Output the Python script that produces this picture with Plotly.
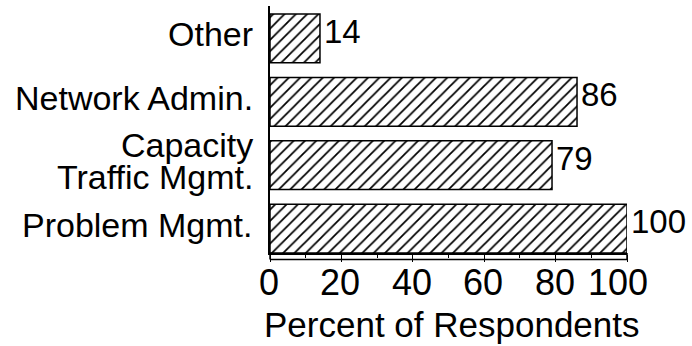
import plotly.graph_objects as go

# Survey results: share of respondents naming each management function
categories = ["Problem Mgmt.", "Capacity Traffic Mgmt.", "Network Admin.", "Other"]
category_lines = [["Problem Mgmt."], ["Capacity", "Traffic Mgmt."], ["Network Admin."], ["Other"]]
percent = [100, 79, 86, 14]
x_ticks = [0, 20, 40, 60, 80, 100]
x_title = "Percent of Respondents"

FONT = "Liberation Sans, Arial, Helvetica, sans-serif"

fig = go.Figure(
    go.Bar(
        x=percent,
        y=categories,
        orientation="h",
        marker=dict(
            color="white",
            line=dict(color="black", width=1.5),
            pattern=dict(shape="/", fgcolor="black", bgcolor="white",
                         fgopacity=1, size=8, solidity=0.22),
        ),
    )
)

fig.update_layout(
    width=692,
    height=346,
    margin=dict(l=270, r=65, t=6, b=92.5),
    paper_bgcolor="white",
    plot_bgcolor="white",
    bargap=0.23,
    showlegend=False,
    font=dict(family=FONT, color="black"),
    xaxis=dict(
        range=[0, 100],
        tickvals=x_ticks,
        showticklabels=False,
        ticks="outside",
        ticklen=7,
        tickwidth=1.2,
        tickcolor="black",
        minor=dict(dtick=10, ticks="outside", ticklen=3, tickwidth=1, tickcolor="black"),
        showline=True,
        linecolor="black",
        linewidth=1.5,
        showgrid=False,
        zeroline=False,
    ),
    yaxis=dict(
        range=[-0.386, 3.512],
        showline=True,
        linecolor="black",
        linewidth=1.5,
        showgrid=False,
        ticks="",
        showticklabels=False,
    ),
)

# X tick labels (the last one nudged left to stay inside the page)
for t in x_ticks:
    fig.add_annotation(
        x=t, xref="x", y=0, yref="paper",
        text=str(t), showarrow=False,
        xanchor="center", yanchor="middle",
        xshift=-9 if t == x_ticks[-1] else -1, yshift=-29,
        font=dict(size=36),
    )

# X axis title
fig.add_annotation(
    x=0.5, xref="paper", y=0, yref="paper",
    text=x_title, showarrow=False,
    xanchor="center", yanchor="middle",
    xshift=3, yshift=-71,
    font=dict(size=35),
)

# Category labels, right-aligned against the y axis
LINE_GAP = 32
for cat, lines in zip(categories, category_lines):
    n = len(lines)
    for i, line in enumerate(lines):
        fig.add_annotation(
            x=0, xref="paper", y=cat, yref="y",
            text=line, showarrow=False,
            xanchor="right", yanchor="middle",
            xshift=-15, yshift=(n - 1) * LINE_GAP / 2 - i * LINE_GAP + 4,
            font=dict(size=34),
        )

# Value labels at the end of each bar
for cat, v in zip(categories, percent):
    fig.add_annotation(
        x=v, xref="x", y=cat, yref="y",
        text=str(v), showarrow=False,
        xanchor="left", yanchor="middle",
        xshift=2, yshift=7,
        font=dict(size=33),
    )

# Lower edge of the axis band, with its closing verticals
band_bottom = -6.5 / 247.5
fig.add_shape(type="line", xref="x domain", yref="y domain",
              x0=0, x1=1, y0=band_bottom, y1=band_bottom,
              line=dict(color="black", width=1.5))
fig.add_shape(type="line", xref="x domain", yref="y domain",
              x0=0, x1=0, y0=band_bottom, y1=0,
              line=dict(color="black", width=1.5))
fig.add_shape(type="line", xref="x domain", yref="y domain",
              x0=1, x1=1, y0=band_bottom, y1=0,
              line=dict(color="black", width=1.5))

fig.write_html("out.html")
